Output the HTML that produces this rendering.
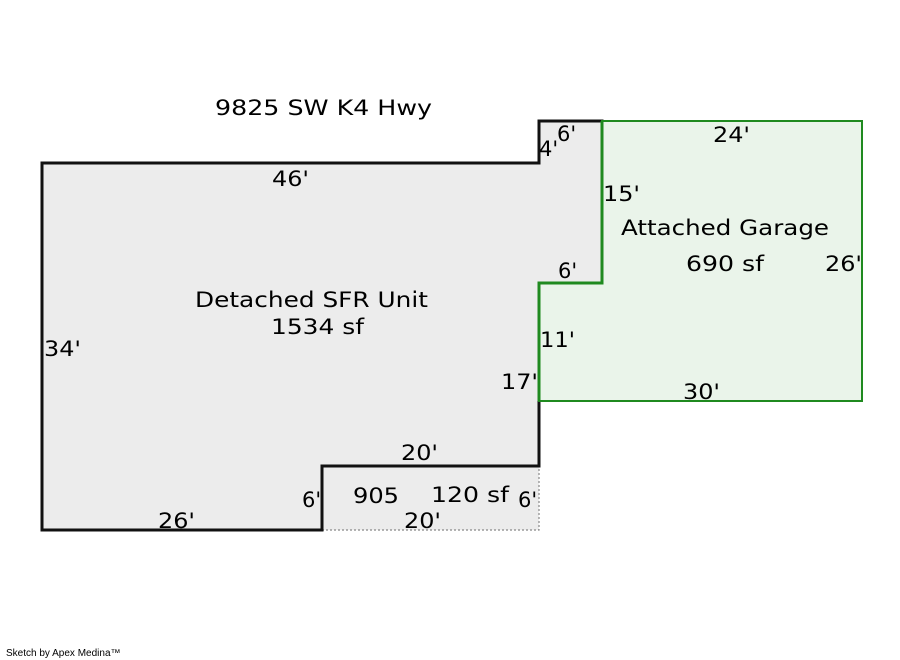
<!DOCTYPE html>
<html><head><style>
html,body{margin:0;padding:0;background:#fff;width:900px;height:660px;overflow:hidden}
svg text{font-family:"DejaVu Sans","Liberation Sans",sans-serif;font-size:21px;fill:#000}
</style></head><body>
<svg width="900" height="660" viewBox="0 0 900 660" xmlns="http://www.w3.org/2000/svg">
<rect x="322" y="466" width="217" height="64" fill="#ececec" stroke="#888" stroke-width="1.2" stroke-dasharray="2,2"/>
<polygon points="42,163 539,163 539,121 602,121 602,283 539,283 539,466 322,466 322,530 42,530" fill="#ececec" stroke="#111" stroke-width="3"/>
<polygon points="602,121 862,121 862,401 539,401 539,283 602,283" fill="#eaf4ea" stroke="#1f8a1f" stroke-width="2"/>
<polyline points="602,121 602,283 539,283 539,401" fill="none" stroke="#1f8a1f" stroke-width="3"/>
<text x="215" y="115" textLength="217" lengthAdjust="spacingAndGlyphs">9825 SW K4 Hwy</text>
<text x="272" y="186" textLength="37" lengthAdjust="spacingAndGlyphs">46'</text>
<text x="539" y="156">4'</text>
<text x="557" y="141">6'</text>
<text x="713" y="142" textLength="37" lengthAdjust="spacingAndGlyphs">24'</text>
<text x="603" y="201" textLength="37" lengthAdjust="spacingAndGlyphs">15'</text>
<text x="621" y="235" textLength="208" lengthAdjust="spacingAndGlyphs">Attached Garage</text>
<text x="686" y="271" textLength="78" lengthAdjust="spacingAndGlyphs">690 sf</text>
<text x="825" y="271" textLength="37" lengthAdjust="spacingAndGlyphs">26'</text>
<text x="558" y="278">6'</text>
<text x="195" y="307" textLength="233" lengthAdjust="spacingAndGlyphs">Detached SFR Unit</text>
<text x="271" y="334" textLength="93" lengthAdjust="spacingAndGlyphs">1534 sf</text>
<text x="44" y="356" textLength="37" lengthAdjust="spacingAndGlyphs">34'</text>
<text x="540" y="347" textLength="35" lengthAdjust="spacingAndGlyphs">11'</text>
<text x="501" y="389" textLength="37" lengthAdjust="spacingAndGlyphs">17'</text>
<text x="683" y="399" textLength="37" lengthAdjust="spacingAndGlyphs">30'</text>
<text x="401" y="460" textLength="37" lengthAdjust="spacingAndGlyphs">20'</text>
<text x="302" y="507">6'</text>
<text x="353" y="503" textLength="46" lengthAdjust="spacingAndGlyphs">905</text>
<text x="431" y="502" textLength="78" lengthAdjust="spacingAndGlyphs">120 sf</text>
<text x="518" y="507">6'</text>
<text x="404" y="528" textLength="37" lengthAdjust="spacingAndGlyphs">20'</text>
<text x="158" y="528" textLength="37" lengthAdjust="spacingAndGlyphs">26'</text>
<text x="6" y="656" style="font-family:'Liberation Sans',sans-serif;font-size:10px">Sketch by Apex Medina™</text>
</svg>
</body></html>
